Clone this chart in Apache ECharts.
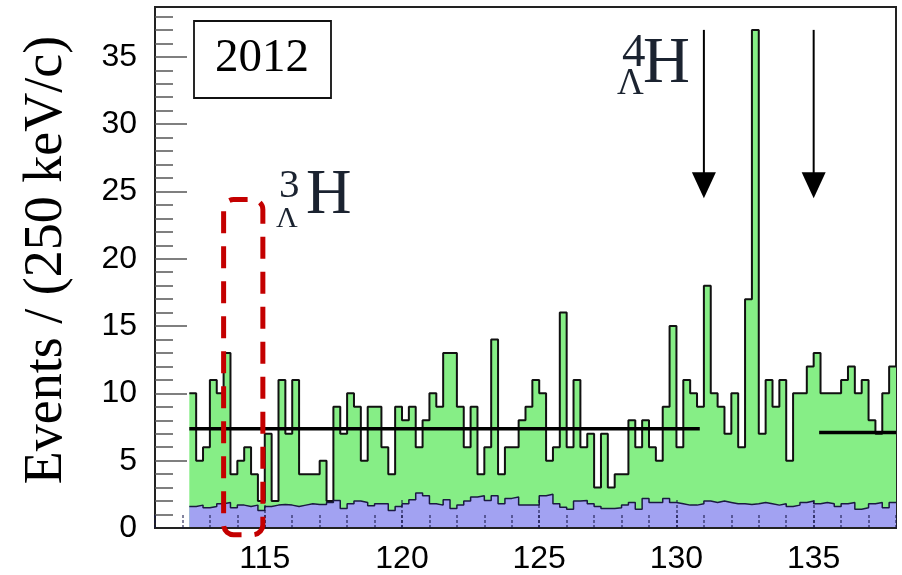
<!DOCTYPE html>
<html>
<head>
<meta charset="utf-8">
<script src="https://cdn.jsdelivr.net/npm/echarts@6/dist/echarts.min.js"></script>
<style>
  html, body { margin: 0; padding: 0; background: #fff; }
  #main { width: 902px; height: 575px; }
</style>
</head>
<body>
<div id="main"></div>
<script>
// Invariant-mass histogram, 250 keV/c bins
const binStart = 112.25;
const binWidth = 0.25;

// total events per bin (green)
const totalCounts = [
  10, 5, 6, 11, 10, 13, 4, 5, 6, 4, 2, 7, 2, 11, 7, 11, 4, 4, 4, 5, 2, 9,
  7, 10, 9, 5, 9, 9, 6, 4, 9, 8, 9, 6, 8, 10, 9, 13, 13, 9, 6, 9, 4, 6, 14, 4,
  6, 6, 8, 9, 11, 10, 5, 6, 16, 6, 11, 6, 7, 3, 7, 3, 4, 4, 8, 6, 8, 6, 5, 9,
  15, 6, 11, 10, 9, 18, 10, 9, 7, 10, 6, 17, 37, 7, 11, 9, 11, 5, 10, 10, 12,
  13, 10, 10, 10, 11, 12, 10, 11, 8, 7, 10, 12
];

// background events per bin (blue)
const backgroundCounts = [
  1.6, 1.7, 1.5, 1.6, 1.8, 1.9, 1.5, 1.7, 1.6, 1.7, 1.3, 1.6, 1.7, 1.75, 1.7,
  1.6, 1.7, 1.8, 1.75, 1.75, 1.9, 2.05, 1.45, 1.8, 2.0, 1.9, 1.65, 1.8, 1.8, 1.3,
  1.6, 1.8, 2.1, 2.6, 2.4, 1.8, 1.7, 2.1, 1.45, 1.7, 2.0, 2.3, 2.4, 2.05, 2.4,
  1.8, 2.2, 2.3, 1.7, 1.7, 1.7, 2.4, 2.5, 1.8, 1.55, 1.4, 2.0, 2.05, 1.8, 1.6,
  1.45, 1.45, 1.5, 1.7, 1.9, 1.4, 2.2, 1.9, 1.9, 2.2, 1.9, 1.8, 1.7, 1.7, 1.8,
  2.0, 1.9, 2.0, 1.9, 1.8, 1.8, 1.75, 1.8, 1.9, 1.8, 1.7, 1.8, 1.6, 1.7, 1.9,
  2.0, 1.8, 1.9, 1.8, 1.6, 1.8, 1.9, 1.4, 1.5, 1.8, 1.9, 1.5, 1.9
];

// fitted levels
const fitLeft = [[112.25, 7.37], [130.85, 7.37]];
const fitRight = [[135.2, 7.1], [138.0, 7.1]];

// arrow positions (MeV/c), arrow top and tip in events
const arrowX = [131, 135];
const arrowTop = 37.0;
const arrowTip = 24.5;

// dashed selection window for the 3-body candidate
const windowX = [113.5, 114.93];
const windowY = [-0.5, 24.4];

// axis ticks
const xMajorTicks = [115, 120, 125, 130, 135];
const xMinorTicks = [111, 112, 113, 114, 115, 116, 117, 118, 119, 120, 121, 122, 123, 124, 125,
  126, 127, 128, 129, 130, 131, 132, 133, 134, 135, 136, 137, 138];
const yMajorTicks = [0, 5, 10, 15, 20, 25, 30, 35];
const yMinorTicks = [0, 1, 2, 3, 4, 5, 6, 7, 8, 9, 10, 11, 12, 13, 14, 15, 16, 17, 18, 19, 20,
  21, 22, 23, 24, 25, 26, 27, 28, 29, 30, 31, 32, 33, 34, 35, 36, 37, 38];

const xRange = [111, 138];
const yRange = [0, 38.7];

function stepData(values) {
  const pts = values.map((v, i) => [binStart + i * binWidth, v]);
  pts.push([binStart + values.length * binWidth, values[values.length - 1]]);
  return pts;
}

const chart = echarts.init(document.getElementById('main'), null, { renderer: 'canvas' });

const tickFont = '"Liberation Sans", Arial, sans-serif';
const serif = '"Liberation Serif", "Times New Roman", serif';

const option = {
  animation: false,
  grid: {
    left: 155, right: 6, top: 7, bottom: 42,
    show: true, borderColor: '#222', borderWidth: 2, backgroundColor: '#fff'
  },
  xAxis: [
    {
      type: 'value', min: xRange[0], max: xRange[1], interval: 1, position: 'bottom', z: 5,
      axisLine: { show: true, onZero: false, lineStyle: { color: '#222', width: 2 } },
      axisTick: { show: true, inside: true, length: 28, customValues: xMajorTicks,
        lineStyle: { color: 'rgba(20,20,70,0.7)', width: 1.5, type: [3, 2] } },
      axisLabel: { show: true, customValues: xMajorTicks, margin: 15, fontSize: 32,
        color: '#000', fontFamily: tickFont },
      splitLine: { show: false }
    },
    {
      type: 'value', min: xRange[0], max: xRange[1], interval: 1, position: 'bottom', z: 5,
      axisLine: { show: false, onZero: false },
      axisTick: { show: true, inside: true, length: 13, customValues: xMinorTicks,
        lineStyle: { color: 'rgba(20,20,70,0.7)', width: 1.5, type: [3, 2] } },
      axisLabel: { show: false },
      splitLine: { show: false }
    }
  ],
  yAxis: [
    {
      type: 'value', min: yRange[0], max: yRange[1], interval: 5, position: 'left',
      axisLine: { show: true, onZero: false, lineStyle: { color: '#222', width: 2 } },
      axisTick: { show: true, inside: true, length: 32, customValues: yMajorTicks,
        lineStyle: { color: '#555', width: 1.5 } },
      axisLabel: { show: true, customValues: yMajorTicks, margin: 18, fontSize: 32,
        color: '#000', fontFamily: tickFont },
      splitLine: { show: false }
    },
    {
      type: 'value', min: yRange[0], max: yRange[1], interval: 1, position: 'left',
      axisLine: { show: false, onZero: false },
      axisTick: { show: true, inside: true, length: 18, customValues: yMinorTicks,
        lineStyle: { color: '#555', width: 1.5 } },
      axisLabel: { show: false },
      splitLine: { show: false }
    }
  ],
  series: [
    {
      name: 'total', type: 'line', step: 'end', data: stepData(totalCounts),
      xAxisIndex: 0, yAxisIndex: 0, symbol: 'none', z: 2,
      lineStyle: { color: '#111', width: 2 },
      areaStyle: { color: '#86ee86', opacity: 1 }
    },
    {
      name: 'background', type: 'line', step: 'end', data: stepData(backgroundCounts),
      xAxisIndex: 0, yAxisIndex: 0, symbol: 'none', z: 3,
      lineStyle: { color: '#1a1a40', width: 1.5 },
      areaStyle: { color: '#a2a2f2', opacity: 1 }
    },
    {
      name: 'fit left', type: 'line', data: fitLeft, symbol: 'none', z: 4,
      lineStyle: { color: '#000', width: 3.5 }
    },
    {
      name: 'fit right', type: 'line', data: fitRight, symbol: 'none', z: 4,
      lineStyle: { color: '#000', width: 3.5 }
    }
  ]
};

chart.setOption(option);

function px(x, y) {
  return chart.convertToPixel({ xAxisIndex: 0, yAxisIndex: 0 }, [x, y]);
}

const graphics = [];

// arrows
arrowX.forEach(function (x) {
  const top = px(x, arrowTop);
  const tip = px(x, arrowTip);
  graphics.push({
    type: 'line', z: 10,
    shape: { x1: top[0], y1: top[1], x2: tip[0], y2: tip[1] - 20 },
    style: { stroke: '#000', lineWidth: 2 }
  });
  graphics.push({
    type: 'polygon', z: 10,
    shape: { points: [[tip[0] - 12, tip[1] - 26], [tip[0] + 12, tip[1] - 26], [tip[0], tip[1]]] },
    style: { fill: '#000' }
  });
});

// dashed window
const wa = px(windowX[0], windowY[1]);
const wb = px(windowX[1], windowY[0]);
graphics.push({
  type: 'rect', z: 12,
  shape: { x: wa[0], y: wa[1], width: wb[0] - wa[0], height: wb[1] - wa[1], r: 10 },
  style: { fill: 'none', stroke: '#c40000', lineWidth: 5, lineDash: [22, 13], lineDashOffset: 8 }
});

// year box
graphics.push({
  type: 'rect', z: 12,
  shape: { x: 194, y: 21, width: 137, height: 77 },
  style: { fill: '#fff', stroke: '#111', lineWidth: 1.8 }
});

// text pieces placed by their visual centre
function label(parts, color) {
  parts.forEach(function (p) {
    graphics.push({
      type: 'text', z: 13,
      style: { text: p.t, x: p.x, y: p.y, textAlign: p.a || 'left', textVerticalAlign: 'middle',
        font: p.s + 'px ' + serif, fill: color }
    });
  });
}
label([{ t: '2012', x: 262, y: 59, s: 47, a: 'center' }], '#000');
label([
  { t: '3', x: 279, y: 186, s: 41 },
  { t: 'Λ', x: 276, y: 219, s: 30 },
  { t: 'H', x: 306, y: 196, s: 63 }
], '#1b2330');
label([
  { t: '4', x: 622, y: 54, s: 47 },
  { t: 'Λ', x: 617, y: 84, s: 37 },
  { t: 'H', x: 643, y: 65, s: 65 }
], '#1b2330');

// y-axis title
graphics.push({
  type: 'text', z: 13, x: 47, y: 260, rotation: Math.PI / 2,
  style: { text: 'Events / (250 keV/c)', x: 0, y: 0, textAlign: 'center', textVerticalAlign: 'middle',
    font: '54px ' + serif, fill: '#000' }
});

chart.setOption({ graphic: { elements: graphics } });
</script>
</body>
</html>
